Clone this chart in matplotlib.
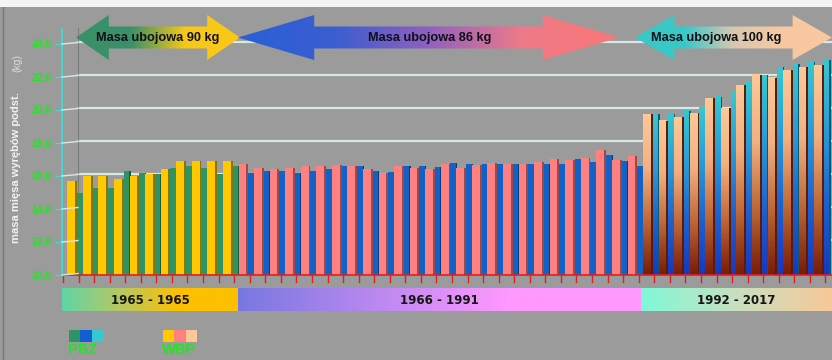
import numpy as np
import matplotlib
matplotlib.use("Agg")
import matplotlib.pyplot as plt
from matplotlib.patches import Polygon, Rectangle
from matplotlib.colors import LinearSegmentedColormap

# masa mięsa wyrębów podstawowych (kg) - WBP / PBZ
wbp_90 = [15.7, 16.0, 16.0, 15.8, 16.0, 16.15, 16.4, 16.9, 16.9, 16.9, 16.9]
pbz_90 = [15.0, 15.3, 15.3, 16.3, 16.2, 16.15, 16.5, 16.6, 16.5, 16.1, 16.6]

wbp_86 = [16.7, 16.5, 16.45, 16.5, 16.6, 16.6, 16.65, 16.6, 16.4, 16.2, 16.6, 16.5, 16.4,
          16.7, 16.5, 16.65, 16.8, 16.75, 16.7, 16.85, 17.05, 17.0, 17.1, 17.6, 17.0, 17.2]
pbz_86 = [16.2, 16.3, 16.3, 16.2, 16.3, 16.4, 16.6, 16.6, 16.3, 16.25, 16.6, 16.6, 16.55,
          16.8, 16.75, 16.75, 16.7, 16.7, 16.75, 16.75, 16.75, 17.05, 16.85, 17.25, 16.9, 16.6]

wbp_100 = [19.75, 19.35, 19.55, 19.8, 20.7, 20.1, 21.5, 22.15, 21.95, 22.4, 22.6, 22.7]
pbz_100 = [19.75, 19.75, 19.95, 20.15, 20.8, 21.1, 21.7, 22.1, 22.6, 22.8, 22.9, 23.05]

periods = ["1965 - 1965", "1966 - 1991", "1992 - 2017"]
arrow_labels = ["Masa ubojowa 90 kg", "Masa ubojowa 86 kg", "Masa ubojowa 100 kg"]
y_ticks = [10, 12, 14, 16, 18, 20, 22, 24]

BG = "#9b9b9b"
W, H = 832, 360
PX = 15.56          # pixels per year
X0 = 63.0           # pixel of first category boundary
Y0, YT = 275.0, 28.0
PXY = 16.5          # pixels per kg

fig = plt.figure(figsize=(W / 100, H / 100), dpi=100, facecolor=BG)
ax = fig.add_axes([62 / W, (H - Y0) / H, (W - 62) / W, (Y0 - YT) / H])
ax.set_facecolor("none")
ax.axis("off")
ymax = 10 + (Y0 - YT) / PXY
xmin, xmax = (62 - X0) / PX, (W - X0) / PX

ov = fig.add_axes([0, 0, 1, 1], zorder=5)
ov.set_xlim(0, W)
ov.set_ylim(H, 0)
ov.axis("off")

def ypx(v):
    return Y0 - (v - 10) * PXY

# grid on the back wall
for v in y_ticks[1:]:
    ax.plot([(78 - X0) / PX, xmax], [v + 0.1, v + 0.1], color="#d6e8e8", lw=1.6, zorder=1)
ax.plot([(78 - X0) / PX] * 2, [10, ymax], color="#7c7c7c", lw=0.8, zorder=1)


def flat_bar(x, top, w, sw, face, side, z):
    ax.bar(x, top - 10, width=w, bottom=10, align="edge", color=face, lw=0, zorder=z)
    ax.bar(x + w, top - 10, width=sw, bottom=10, align="edge", color=side, lw=0, zorder=z)


def grad_bar(x, top, w, sw, colors, side, z):
    cmap = LinearSegmentedColormap.from_list("g", colors)
    g = cmap(np.linspace(0, 1, 64))[:, None, :3]
    ax.imshow(g, extent=[x, x + w, 10, top], origin="upper", aspect="auto",
              interpolation="bilinear", zorder=z)
    ax.bar(x + w, top - 10, width=sw, bottom=10, align="edge", color=side, lw=0, zorder=z)


groups = [
    (wbp_90, pbz_90, ("#ffc800", "#8a7400"), ("#2e9464", "#1c5a3a"), None),
    (wbp_86, pbz_86, ("#ff8080", "#a04848"), ("#1062c8", "#0a3a80"), None),
    (wbp_100, pbz_100, (["#fcc898", "#f4b080", "#c06838", "#7a1c08"], "#5a1c0a"),
     (["#34c8d0", "#2a9ad8", "#1c62d0", "#1838c0"], "#0c5a70"), "grad"),
]

k = 0
for wbp, pbz, wc, pc, kind in groups:
    for a, b in zip(wbp, pbz):
        if kind == "grad":
            grad_bar(k + 0.9, b, 0.36, 0.08, pc[0], pc[1], 2)
            grad_bar(k + 0.28, a, 0.5, 0.12, wc[0], wc[1], 3)
        else:
            flat_bar(k + 0.9, b, 0.36, 0.08, pc[0], pc[1], 2)
            flat_bar(k + 0.28, a, 0.5, 0.12, wc[0], wc[1], 3)
        k += 1

# red floor line with ticks
ax.plot([xmin, xmax], [10, 10], color="#e02020", lw=1.2, zorder=4, clip_on=False)
for t in range(0, int(xmax) + 1):
    ax.plot([t, t], [10, 10 - 7 / PXY], color="#e02020", lw=1.0, zorder=4, clip_on=False)

ax.set_xlim(xmin, xmax)
ax.set_ylim(10, ymax)

# value axis
ov.plot([62, 62], [YT, Y0], color="#40d8d8", lw=1.3)
for v in y_ticks:
    y = ypx(v)
    ov.plot([56, 62], [y, y], color="#40d8d8", lw=1.0)
    ov.plot([62, 78], [y, y - 1.5], color="#d6e8e8", lw=1.0)
    ov.text(52, y, f"{v},0", color="#1ee81e", fontsize=7.5, fontweight="bold",
            ha="right", va="center", family="Liberation Sans")

ov.text(16, 168, "masa mięsa wyrębów podst.", rotation=90, color="#f2f2f2", fontsize=8,
        fontweight="bold", ha="center", va="center", family="Liberation Sans")
ov.text(17, 63, "(kg)", rotation=90, color="#dddddd", fontsize=7.5, ha="center", va="center",
        family="Liberation Sans")


def hgrad(x0, x1, y0, y1, colors, clip=None):
    cmap = LinearSegmentedColormap.from_list("h", colors)
    g = cmap(np.linspace(0, 1, 256))[None, :, :3]
    im = ov.imshow(g, extent=[x0, x1, y1, y0], aspect="auto", interpolation="bilinear", zorder=6)
    if clip is not None:
        ov.add_patch(clip)
        im.set_clip_path(clip)
    ov.set_xlim(0, W)
    ov.set_ylim(H, 0)


def double_arrow(x0, x1, colors, label, tx):
    cy, hh, sh = 37.5, 22.5, 11
    hl = 0.2 * (x1 - x0)
    pts = [(x0, cy), (x0 + hl, cy - hh), (x0 + hl, cy - sh), (x1 - hl, cy - sh),
           (x1 - hl, cy - hh), (x1, cy), (x1 - hl, cy + hh), (x1 - hl, cy + sh),
           (x0 + hl, cy + sh), (x0 + hl, cy + hh)]
    poly = Polygon(pts, closed=True, facecolor="none", edgecolor="none", transform=ov.transData)
    hgrad(x0, x1, cy - hh, cy + hh, colors, clip=poly)
    ov.text(tx, cy, label, fontsize=9.2, fontweight="bold", color="#101018",
            ha="center", va="center", zorder=7, family="Liberation Sans")


double_arrow(76, 240, ["#3a9068", "#3a9068", "#f8c818", "#f8c818"], arrow_labels[0], 158)
double_arrow(238, 619, ["#2a5fd8", "#3a5ed0", "#9060c0", "#f07a88", "#f87878"], arrow_labels[1], 430)
double_arrow(635, 832, ["#38c8c8", "#38c8c8", "#d8c8b0", "#f8c8a0", "#f8c8a0"], arrow_labels[2], 716)

# period bands
bands = [(62, 238, ["#5fd6a6", "#b8c860", "#fcc000", "#fcc000"]),
         (238, 641, ["#7878e0", "#b888f0", "#ff98ff", "#ff98ff"]),
         (641, W, ["#80f8d8", "#c8e0c0", "#f8c898"])]
for (x0, x1, cols), lab in zip(bands, periods):
    hgrad(x0, x1, 288, 311, cols)
    ov.text((x0 + x1) / 2, 300, lab, fontsize=8.5, fontweight="bold", color="#151515",
            ha="center", va="center", zorder=7, family="Liberation Sans Narrow")

# legend
for i, c in enumerate(["#2e9466", "#1060d0", "#38c8d0"]):
    ov.add_patch(Rectangle((69 + 11.3 * i, 330), 11.3, 12, color=c, lw=0, zorder=6))
for i, c in enumerate(["#ffc800", "#ff8080", "#fcc898"]):
    ov.add_patch(Rectangle((163 + 11.3 * i, 330), 11.3, 12, color=c, lw=0, zorder=6))
ov.text(68, 350, "PBZ", color="#1ee81e", fontsize=10.5, fontweight="bold", ha="left", va="center",
        family="Liberation Sans")
ov.text(162, 350, "WBP", color="#1ee81e", fontsize=10.5, fontweight="bold", ha="left", va="center",
        family="Liberation Sans")

ov.add_patch(Rectangle((0, 0), W, 6.5, color="#f4f4f4", lw=0, zorder=6))
ov.plot([2.5, 2.5], [7, H], color="#6e7a7a", lw=1.0)

fig.savefig("out.png", dpi=100, facecolor=BG)
